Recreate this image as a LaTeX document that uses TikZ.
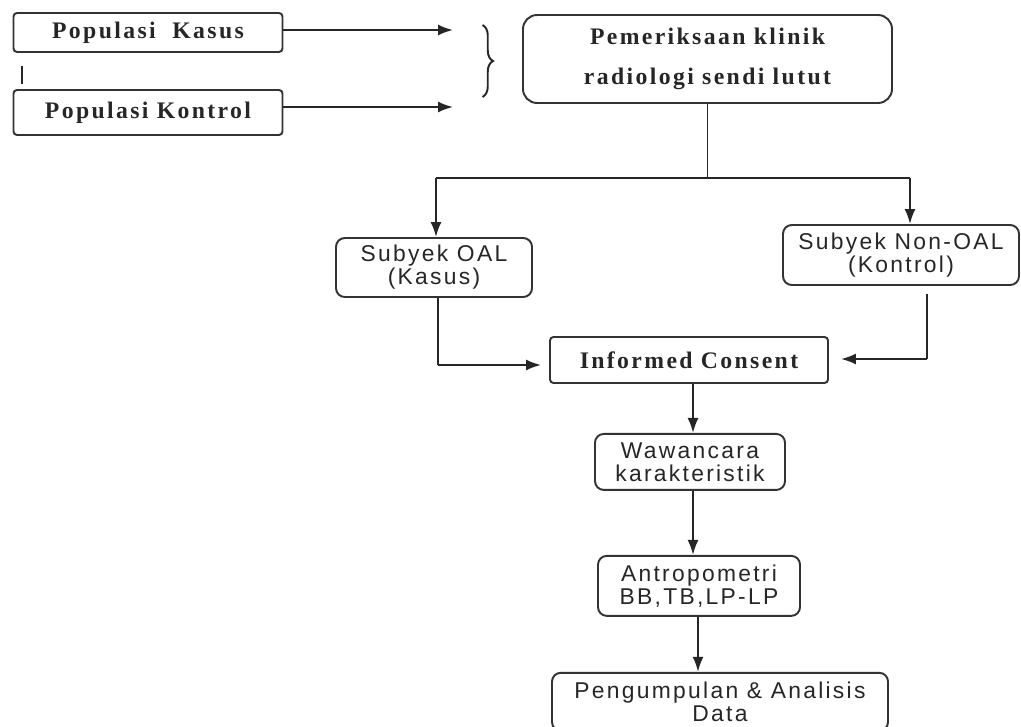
\documentclass[tikz,border=0pt]{standalone}
\usepackage{fontspec}
\setmainfont{Liberation Serif}
\setsansfont{Liberation Sans}
\newfontfamily\serifspaced{Liberation Serif}[LetterSpace=10]
\newfontfamily\sansspaced{Liberation Sans}[LetterSpace=10]
\usetikzlibrary{arrows.meta, positioning, calc, decorations.pathreplacing}

\begin{document}
\begin{tikzpicture}[
        serifbox/.style={rectangle, draw=black!80, line width=1.1pt, rounded corners=2pt, align=center, text=black!85, font=\serifspaced\bfseries\fontsize{13.5}{23}\selectfont},
        sansbox/.style={rectangle, draw=black!80, line width=1.1pt, rounded corners=5pt, align=center, text=black!85, font=\sansspaced\fontsize{13}{13}\selectfont},
        flow/.style={-{Latex[length=3mm,width=2.2mm]}, line width=1.1pt, draw=black!85},
        link/.style={line width=1.1pt, draw=black!85}
    ]
        \useasboundingbox (0,0) rectangle (20.42,-14.52);

        % Populasi
        \node[serifbox, minimum width=5.38cm, minimum height=0.78cm] (kasus) at (2.96,-0.65) {Populasi\ \ Kasus};
        \node[serifbox, minimum width=5.38cm, minimum height=0.9cm] (kontrol) at (2.96,-2.25) {Populasi Kontrol};
        \draw[link, shorten <=0.26cm, shorten >=0.1cm] ($(kasus.south west)+(0.18,0)$) -- ($(kontrol.north west)+(0.18,0)$);

        % Arrows to brace
        \coordinate (arrx) at (9.06,0);
        \coordinate (brtop) at (9.65,-0.5);
        \coordinate (brbot) at (9.65,-1.94);
        \draw[flow] ($(kasus.east)+(0,0.05)$) -- ($(kasus.east -| arrx)+(0,0.05)$);
        \draw[flow] ($(kontrol.east)+(0,0.11)$) -- ($(kontrol.east -| arrx)+(0,0.11)$);
        \draw[link, decorate, decoration={brace, amplitude=6pt}] (brtop) -- (brbot);

        % Pemeriksaan
        \node[serifbox, rounded corners=8pt, minimum width=7.38cm, minimum height=1.76cm] (periksa) at (14.15,-1.18) {Pemeriksaan klinik\\radiologi sendi lutut};

        % Split
        \coordinate (splitL) at (8.72,-3.56);
        \coordinate (splitR) at (18.2,-3.56);
        \node[sansbox, minimum width=3.92cm, minimum height=1.18cm] (oal) at (8.68,-5.35) {Subyek OAL\\(Kasus)};
        \node[sansbox, minimum width=4.72cm, minimum height=1.2cm] (nonoal) at (18.02,-5.1) {Subyek Non-OAL\\(Kontrol)};
        \draw[link] (periksa.south) -- (periksa.south |- splitL);
        \draw[link] (splitL) -- (splitR);
        \draw[flow] (splitL) -- (splitL |- oal.north);
        \draw[flow] (splitR) -- (splitR |- nonoal.north);

        % Informed consent
        \node[serifbox, font=\serifspaced\bfseries\fontsize{13.5}{16}\selectfont, minimum width=5.56cm, minimum height=0.92cm] (informed) at (13.78,-7.2) {Informed Consent};
        \coordinate (oalturn) at (8.76,-7.3);
        \coordinate (nonturn) at (18.54,-7.18);
        \draw[link] (oal.south -| oalturn) -- (oalturn);
        \draw[flow, shorten >=0.16cm] (oalturn) -- (oalturn -| informed.west);
        \draw[link, shorten <=0.16cm] (nonoal.south -| nonturn) -- (nonturn);
        \draw[flow, shorten >=0.24cm] (nonturn) -- (nonturn -| informed.east);

        % Chain
        \node[sansbox, minimum width=3.8cm, minimum height=1.12cm, below=0.98cm of informed, xshift=0.02cm] (wawancara) {Wawancara\\karakteristik};
        \node[sansbox, minimum width=4.04cm, minimum height=1.2cm, below=1.28cm of wawancara, xshift=0.18cm] (antro) {Antropometri\\BB,TB,LP-LP};
        \node[sansbox, minimum width=6.72cm, minimum height=1.16cm, below=1.1cm of antro, xshift=0.42cm] (data) {Pengumpulan \& Analisis\\Data};

        \draw[flow] ($(informed.south)+(0.08,0)$) -- ($(informed.south |- wawancara.north)+(0.08,0)$);
        \draw[flow] ($(wawancara.south)+(0.06,0)$) -- ($(wawancara.south |- antro.north)+(0.06,0)$);
        \draw[flow] ($(antro.south)+(-0.02,0)$) -- ($(antro.south |- data.north)+(-0.02,0)$);

    \end{tikzpicture}
\end{document}
